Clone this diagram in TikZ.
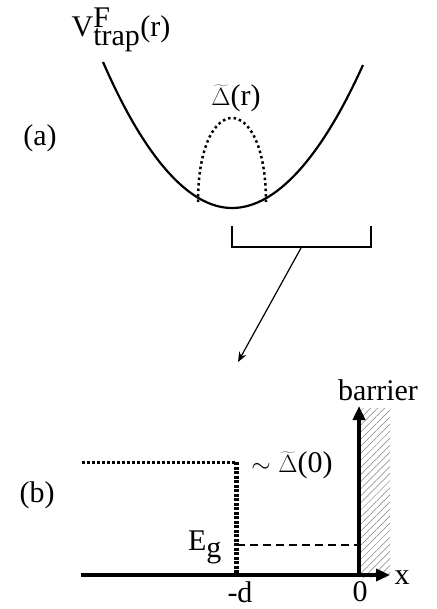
\documentclass[tikz,border=0pt]{standalone}
\usepackage{fontspec}
\setmainfont{Liberation Serif}
\usetikzlibrary{arrows.meta,patterns.meta}

\begin{document}
\begin{tikzpicture}[x=1pt, y=-1pt,
  font=\fontsize{30}{34}\selectfont,
  trap/.style={line width=2.2pt},
  gapline/.style={line width=3pt, dash pattern=on 2.5pt off 2.5pt},
  gapwall/.style={line width=5pt, dash pattern=on 3pt off 1.5pt},
  axis/.style={line width=4pt, -{Triangle[length=14pt,width=12pt]}},
  zoomar/.style={line width=1.2pt, -{Stealth[length=10pt,width=8pt]}},
]
\useasboundingbox (0,0) rectangle (436,609);

% panel (a): trap and gap profile
\draw[trap] (103,62) parabola bend (232,208) (363,65);
\draw[line width=2.5pt, dash pattern=on 2.5pt off 3pt]
  (198,202) .. controls (198,90) and (266,90) .. (266,202);
\node (vtrap) at (121,30) {V$^{\textrm{F}}_{\textrm{trap}}$(r)};
\node (gapr) at (236,98) {$\widetilde{\Delta}$(r)};
\node (la) at (40,138) {(a)};

% zoomed region
\coordinate (brkl) at (232,226);
\coordinate (brkr) at (371,226);
\coordinate (brkm) at (301,248);
\coordinate (zoomtip) at (238,362);
\draw[trap] (brkl) |- (371,247) -- (brkr);
\draw[zoomar] (brkm) -- (zoomtip);

% panel (b): step near the barrier
\coordinate (orig) at (359,575);
\coordinate (xend) at (390,575);
\coordinate (yend) at (359,406);
\coordinate (xstart) at (81,575);
\coordinate (dtop) at (236,462);
\coordinate (dbot) at (236,575);
\coordinate (gleft) at (82,462);
\coordinate (egl) at (237,545);
\coordinate (egr) at (357,545);
\fill[pattern={Lines[angle=45,distance=5pt,line width=0.5pt]}, pattern color=gray]
  (361,408) rectangle (390,577);
\draw[axis] (xstart) -- (xend);
\draw[axis] ([yshift=2pt]orig) -- (yend);
\draw[gapline] (gleft) -- (dtop);
\draw[gapwall] (dtop) -- (dbot);
\draw[line width=1.5pt, dash pattern=on 8pt off 5pt] (egl) -- (egr);

\node (barrier) at (378,390) {barrier};
\node (xlab) at (402,578) {x};
\node[anchor=north, inner sep=1pt] (zero) at (360,580) {0};
\node[anchor=north, inner sep=1pt] (md) at (240,580) {-d};
\node (eg) at (205,547) {E$_{\textrm{g}}$};
\node (gap0) at (292,465) {$\sim$ $\widetilde{\Delta}$(0)};
\node (lb) at (37,495) {(b)};
\end{tikzpicture}
\end{document}
